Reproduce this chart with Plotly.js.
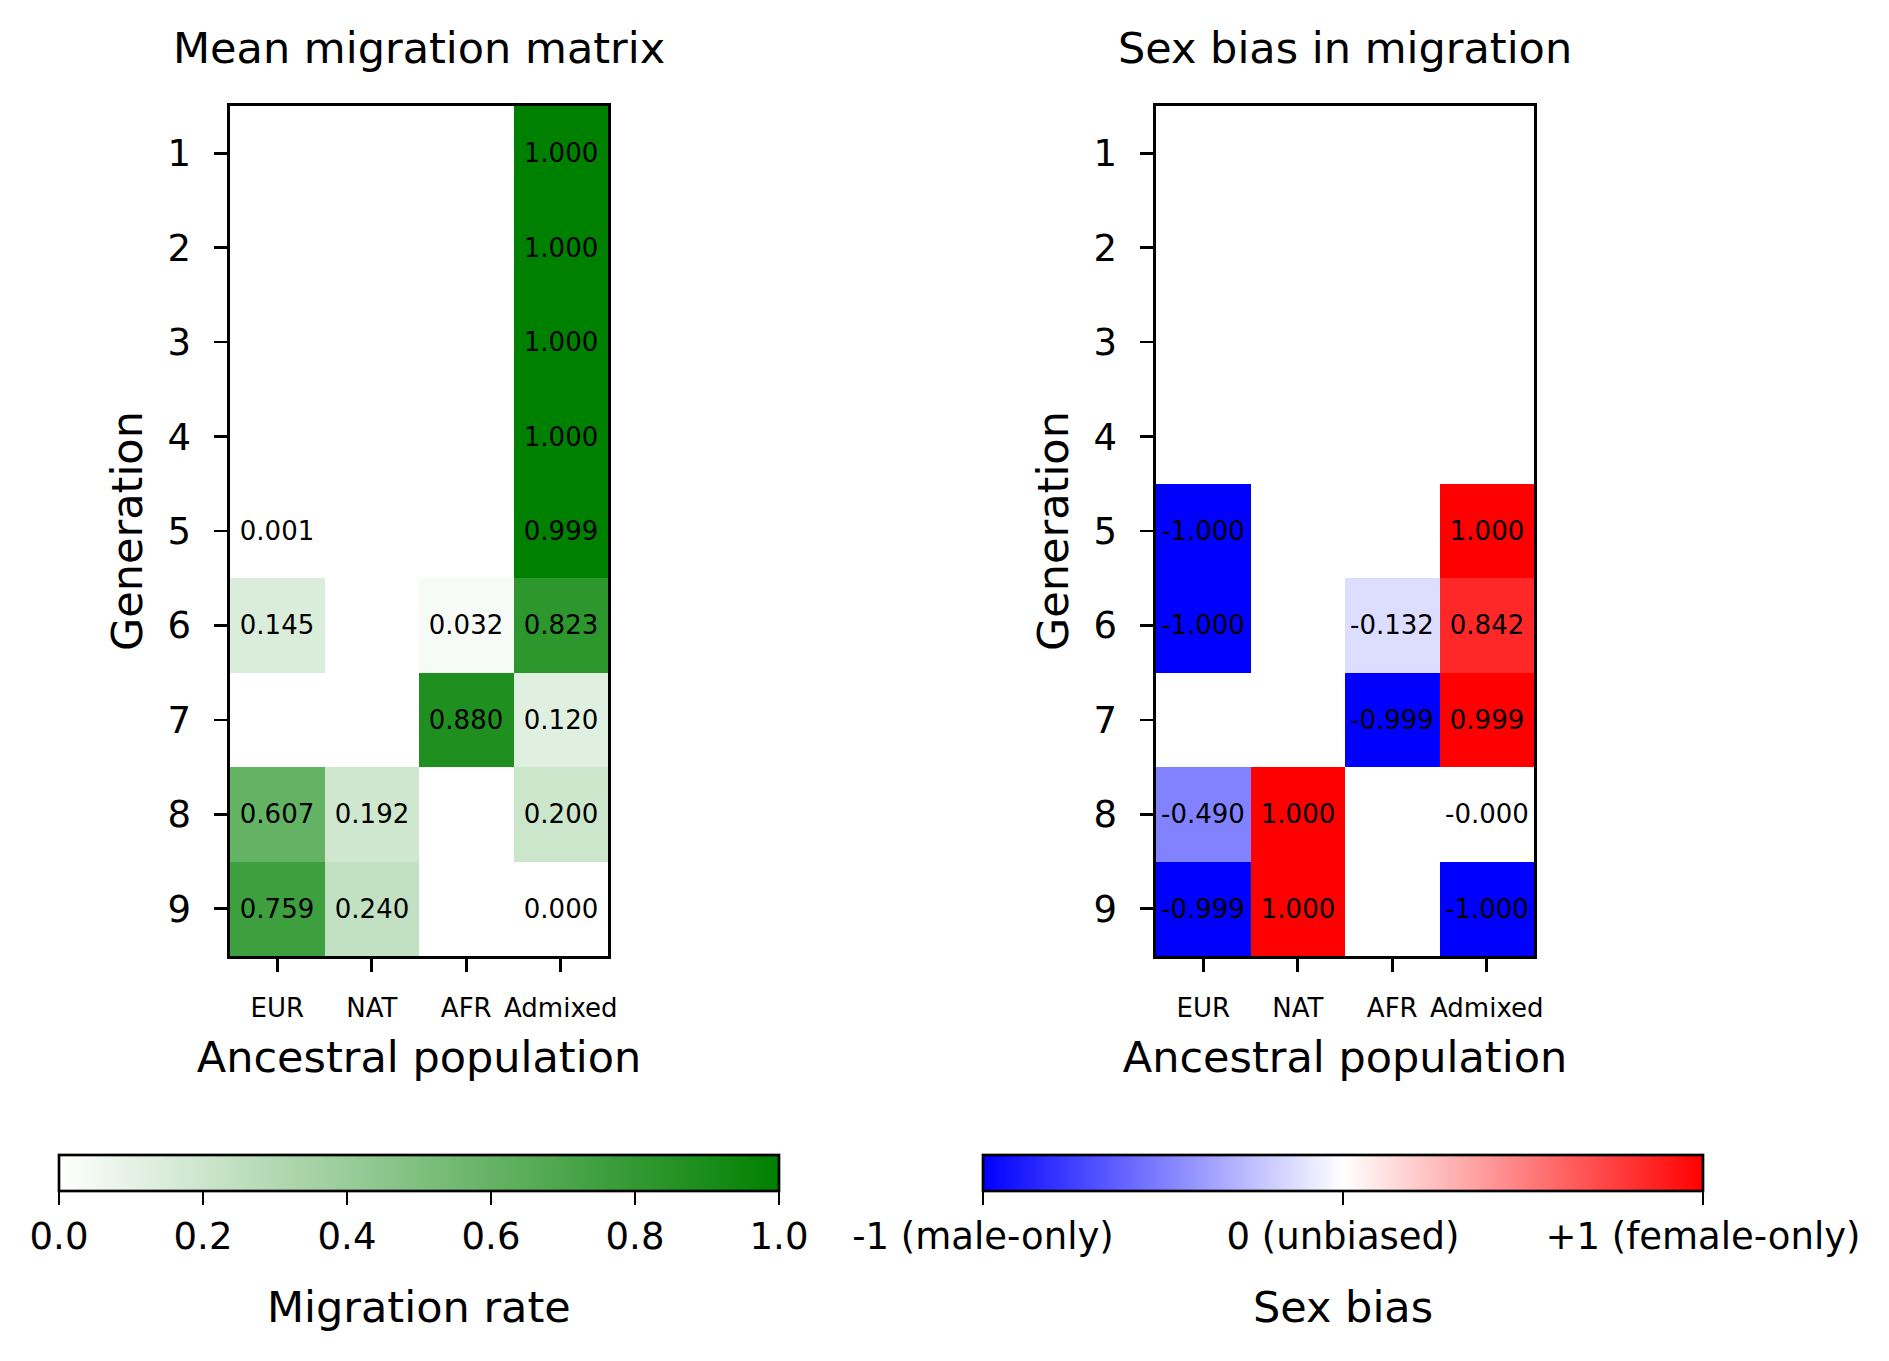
<!DOCTYPE html>
<html>
<head>
<meta charset="utf-8">
<script src="https://cdn.plot.ly/plotly-3.0.1.min.js"></script>
<style>
  html, body { margin: 0; padding: 0; background: #ffffff; }
  #chart { width: 1889px; height: 1361px; }
</style>
</head>
<body>
<div id="chart"></div>
<script>
// ---- data ----
const generations = [1, 2, 3, 4, 5, 6, 7, 8, 9];
const populations = ['EUR', 'NAT', 'AFR', 'Admixed'];

// Mean migration rate per generation (null = not shown)
const migrationEUR     = [null, null, null, null, 0.001, 0.145, null, 0.607, 0.759];
const migrationNAT     = [null, null, null, null, null, null, null, 0.192, 0.240];
const migrationAFR     = [null, null, null, null, null, 0.032, 0.880, null, null];
const migrationAdmixed = [1.000, 1.000, 1.000, 1.000, 0.999, 0.823, 0.120, 0.200, 0.000];

// Sex bias per generation (null = not shown)
const biasEUR     = [null, null, null, null, -1.000, -1.000, null, -0.490, -0.999];
const biasNAT     = [null, null, null, null, null, null, null, 1.000, 1.000];
const biasAFR     = [null, null, null, null, null, -0.132, -0.999, null, null];
const biasAdmixed = [null, null, null, null, 1.000, 0.842, 0.999, -0.0001, -1.000];

const migrationTickVals = [0.0, 0.2, 0.4, 0.6, 0.8, 1.0];
const migrationTickText = ['0.0', '0.2', '0.4', '0.6', '0.8', '1.0'];
const biasTickVals = [-1, 0, 1];
const biasTickText = ['-1 (male-only)', '0 (unbiased)', '+1 (female-only)'];

// ---- build matrices ----
function matrix(cols) {
  return generations.map((g, i) => cols.map(c => c[i]));
}
function labels(z) {
  return z.map(row => row.map(v => (v === null ? '' : v.toFixed(3))));
}
const zMig = matrix([migrationEUR, migrationNAT, migrationAFR, migrationAdmixed]);
const zBias = matrix([biasEUR, biasNAT, biasAFR, biasAdmixed]);

// ---- layout geometry (pixels) ----
const W = 1889, H = 1361;
const px = v => v / W;
const py = v => 1 - v / H;
const FONT = 'DejaVu Sans, sans-serif';
const LW = 2.67;

const cbLen = 720 / W;
const cbTop = 1155;

function colorbar(cx, vals, txt) {
  return {
    orientation: 'h',
    x: px(cx), xanchor: 'center',
    y: py(cbTop), yanchor: 'top',
    len: cbLen, lenmode: 'fraction',
    thickness: 36, thicknessmode: 'pixels',
    xpad: 0, ypad: 0,
    outlinewidth: LW, outlinecolor: '#000000',
    ticks: 'outside', ticklen: 13, tickwidth: LW, tickcolor: '#000000',
    tickvals: vals, ticktext: txt,
    tickfont: { family: FONT, size: 37, color: '#000000' }
  };
}

const traceMig = {
  type: 'heatmap',
  x: populations, y: generations, z: zMig,
  text: labels(zMig), texttemplate: '%{text}',
  textfont: { family: FONT, size: 26, color: '#000000' },
  colorscale: [[0, 'rgb(255,255,255)'], [1, 'rgb(0,128,0)']],
  zmin: 0, zmax: 1,
  xaxis: 'x', yaxis: 'y',
  hoverongaps: false,
  colorbar: colorbar(419, migrationTickVals, migrationTickText)
};

const traceBias = {
  type: 'heatmap',
  x: populations, y: generations, z: zBias,
  text: labels(zBias), texttemplate: '%{text}',
  textfont: { family: FONT, size: 26, color: '#000000' },
  colorscale: [[0, 'rgb(0,0,255)'], [0.5, 'rgb(255,255,255)'], [1, 'rgb(255,0,0)']],
  zmin: -1, zmax: 1,
  xaxis: 'x2', yaxis: 'y2',
  hoverongaps: false,
  colorbar: colorbar(1343, biasTickVals, biasTickText)
};

function xAxis(domain, anchor) {
  return {
    domain: domain, anchor: anchor,
    type: 'category',
    showline: true, mirror: true, linecolor: '#000000', linewidth: LW,
    ticks: 'outside', ticklen: 13, tickwidth: LW, tickcolor: '#000000',
    tickfont: { family: FONT, size: 26, color: '#000000' },
    ticklabelstandoff: 14,
    showgrid: false, zeroline: false, fixedrange: true,
    title: { text: 'Ancestral population', font: { family: FONT, size: 43, color: '#000000' }, standoff: 20 }
  };
}
function yAxis(domain, anchor) {
  return {
    domain: domain, anchor: anchor,
    range: [9.5, 0.5],
    tickvals: generations, ticktext: generations.map(String),
    showline: true, mirror: true, linecolor: '#000000', linewidth: LW,
    ticks: 'outside', ticklen: 13, tickwidth: LW, tickcolor: '#000000',
    tickfont: { family: FONT, size: 37, color: '#000000' },
    ticklabelstandoff: 16,
    showgrid: false, zeroline: false, fixedrange: true,
    title: { text: 'Generation', font: { family: FONT, size: 43, color: '#000000' }, standoff: 12 }
  };
}

const yDom = [py(956), py(106)];

function label(text, x, y) {
  return { text: text, xref: 'paper', yref: 'paper', x: px(x), y: py(y),
    xanchor: 'center', yanchor: 'middle', showarrow: false,
    font: { family: FONT, size: 43, color: '#000000' } };
}

const layout = {
  width: W, height: H,
  margin: { l: 0, r: 0, t: 0, b: 0, pad: 0 },
  paper_bgcolor: '#ffffff', plot_bgcolor: '#ffffff',
  font: { family: FONT, color: '#000000' },
  showlegend: false,
  xaxis: xAxis([px(230), px(608)], 'y'),
  yaxis: yAxis(yDom, 'x'),
  xaxis2: xAxis([px(1156), px(1534)], 'y2'),
  yaxis2: yAxis(yDom, 'x2'),
  annotations: [
    label('Mean migration matrix', 419, 48),
    label('Sex bias in migration', 1345, 48),
    label('Migration rate', 419, 1307),
    label('Sex bias', 1343, 1307)
  ]
};

Plotly.newPlot('chart', [traceMig, traceBias], layout, { displayModeBar: false, staticPlot: true });
</script>
</body>
</html>
